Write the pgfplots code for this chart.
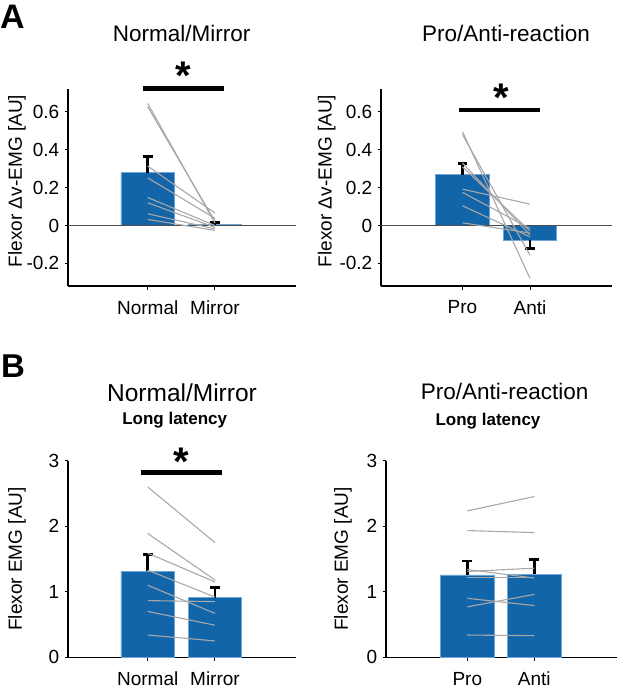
\documentclass[border=0pt]{standalone}
\usepackage{fontspec}
\setmainfont{Liberation Sans}
\usepackage{pgfplots}
\pgfplotsset{compat=1.18}
\definecolor{barblue}{RGB}{18,101,168}
\definecolor{indiv}{RGB}{168,168,168}
\definecolor{baredge}{RGB}{110,165,215}
\pgfplotsset{
 panel/.style={scale only axis, axis x line*=bottom, axis y line*=left,
   axis line style={line width=1.5pt, black}, x axis line style={-}, y axis line style={-},
   every tick/.style={line width=1pt, black}, tick align=outside, major tick length=3.5pt,
   xtick={1,2}, tick label style={font=\fontsize{19}{22}\selectfont},
   xticklabel style={anchor=north, inner sep=0pt, yshift=-11pt},
   yticklabel style={anchor=east, inner sep=0pt, xshift=-5pt}, clip=false},
 mybar/.style={ybar, bar width=53.5pt, fill=barblue, draw=baredge, line width=0.6pt, forget plot},
 ind/.style={indiv, line width=1.1pt, mark=none, forget plot},
 zl/.style={black!70, line width=0.8pt, mark=none, forget plot},
 ebs/.style={black, line width=2.8pt, mark=none, forget plot}
}
\newcommand{\ttl}{\fontsize{22.5}{26}\selectfont}
\newcommand{\lab}{\fontsize{19}{22}\selectfont}
\begin{document}
\begin{tikzpicture}[x=1pt,y=1pt]
\path[use as bounding box] (0pt,0pt) rectangle (617pt,-692pt);
% ---------- Panel A left
\begin{axis}[panel, at={(68pt,-286pt)}, anchor=south west, width=228pt, height=196.7pt,
  xmin=-0.184, xmax=3.204, ymin=-0.32, ymax=0.72,
  xticklabels={Normal,Mirror}, ytick={-0.2,0,0.2,0.4,0.6}, yticklabels={-0.2,0,0.2,0.4,0.6}]
\addplot[mybar] coordinates {(1,0.28) (2,0.005)};
\addplot[zl] coordinates {(-0.184,0) (3.204,0)};
% error bars (mean + SE)
\addplot[ebs] coordinates {(1,0.28) (1,0.365)};
\addplot[ebs] coordinates {(0.926,0.365) (1.074,0.365)};
\addplot[ebs] coordinates {(2,0.005) (2,0.016)};
\addplot[ebs] coordinates {(1.926,0.016) (2.074,0.016)};
\addplot[ind] coordinates {(1,0.645) (2,0.012)};
\addplot[ind] coordinates {(1,0.628) (2,0.022)};
\addplot[ind] coordinates {(1,0.314) (2,0.066)};
\addplot[ind] coordinates {(1,0.252) (2,0.038)};
\addplot[ind] coordinates {(1,0.148) (2,0.0)};
\addplot[ind] coordinates {(1,0.120) (2,-0.010)};
\addplot[ind] coordinates {(1,0.062) (2,-0.018)};
\addplot[ind] coordinates {(1,0.032) (2,-0.026)};
\end{axis}
% ---------- Panel A right
\begin{axis}[panel, at={(381pt,-286pt)}, anchor=south west, width=230.7pt, height=196.7pt,
  xmin=-0.207, xmax=3.21, ymin=-0.32, ymax=0.72,
  xticklabels={Pro,Anti}, ytick={-0.2,0,0.2,0.4,0.6}, yticklabels={-0.2,0,0.2,0.4,0.6}]
\addplot[mybar] coordinates {(1,0.268) (2,-0.078)};
\addplot[zl] coordinates {(-0.207,0) (3.21,0)};
\addplot[ebs] coordinates {(1,0.268) (1,0.326)};
\addplot[ebs] coordinates {(0.927,0.326) (1.073,0.326)};
\addplot[ebs] coordinates {(2,-0.078) (2,-0.120)};
\addplot[ebs] coordinates {(1.927,-0.120) (2.073,-0.120)};
\addplot[ind] coordinates {(1,0.496) (2,-0.280)};
\addplot[ind] coordinates {(1,0.480) (2,-0.157)};
\addplot[ind] coordinates {(1,0.330) (2,-0.050)};
\addplot[ind] coordinates {(1,0.310) (2,-0.030)};
\addplot[ind] coordinates {(1,0.192) (2,0.113)};
\addplot[ind] coordinates {(1,0.175) (2,-0.016)};
\addplot[ind] coordinates {(1,0.104) (2,-0.060)};
\addplot[ind] coordinates {(1,0.014) (2,-0.040)};
\end{axis}
% ---------- Panel B left
\begin{axis}[panel, at={(68pt,-657.3pt)}, anchor=south west, width=228pt, height=196.6pt,
  xmin=-0.184, xmax=3.204, ymin=0, ymax=3,
  xticklabels={Normal,Mirror}, ytick={0,1,2,3}, yticklabels={0,1,2,3}]
\addplot[mybar] coordinates {(1,1.31) (2,0.91)};
\addplot[ebs] coordinates {(1,1.31) (1,1.565)};
\addplot[ebs] coordinates {(0.926,1.565) (1.074,1.565)};
\addplot[ebs] coordinates {(2,0.91) (2,1.07)};
\addplot[ebs] coordinates {(1.926,1.07) (2.074,1.07)};
\addplot[ind] coordinates {(1,2.60) (2,1.75)};
\addplot[ind] coordinates {(1,1.89) (2,1.18)};
\addplot[ind] coordinates {(1,1.59) (2,1.15)};
\addplot[ind] coordinates {(1,1.33) (2,0.92)};
\addplot[ind] coordinates {(1,1.10) (2,0.67)};
\addplot[ind] coordinates {(1,0.865) (2,0.85)};
\addplot[ind] coordinates {(1,0.70) (2,0.49)};
\addplot[ind] coordinates {(1,0.34) (2,0.25)};
\end{axis}
% ---------- Panel B right
\begin{axis}[panel, at={(386pt,-657.3pt)}, anchor=south west, width=230.7pt, height=196.6pt,
  xmin=-0.213, xmax=3.23, ymin=0, ymax=3,
  xticklabels={Pro,Anti}, ytick={0,1,2,3}, yticklabels={0,1,2,3}]
\addplot[mybar] coordinates {(1,1.257) (2,1.267)};
\addplot[ebs] coordinates {(1,1.257) (1,1.47)};
\addplot[ebs] coordinates {(0.925,1.47) (1.075,1.47)};
\addplot[ebs] coordinates {(2,1.267) (2,1.495)};
\addplot[ebs] coordinates {(1.925,1.495) (2.075,1.495)};
\addplot[ind] coordinates {(1,2.234) (2,2.453)};
\addplot[ind] coordinates {(1,1.934) (2,1.903)};
\addplot[ind] coordinates {(1,1.34) (2,1.21)};
\addplot[ind] coordinates {(1,1.31) (2,1.36)};
\addplot[ind] coordinates {(1,1.22) (2,1.22)};
\addplot[ind] coordinates {(1,0.90) (2,0.79)};
\addplot[ind] coordinates {(1,0.77) (2,0.96)};
\addplot[ind] coordinates {(1,0.34) (2,0.33)};
\end{axis}
% ---------- annotations
\node[anchor=base west, inner sep=0pt, font=\fontsize{34}{40}\selectfont\bfseries] at (0pt,-29pt) {A};
\node[anchor=base west, inner sep=0pt, font=\fontsize{33}{40}\selectfont\bfseries] at (1pt,-377pt) {B};
\node[anchor=base, inner sep=0pt, font=\ttl] at (181.7pt,-42pt) {Normal/Mirror};
\node[anchor=base, inner sep=0pt, font=\ttl] at (506pt,-42pt) {Pro/Anti-reaction};
\node[anchor=base, inner sep=0pt, font=\fontsize{24.5}{28}\selectfont] at (182pt,-401.7pt) {Normal/Mirror};
\node[anchor=base, inner sep=0pt, font=\ttl] at (504.7pt,-399.5pt) {Pro/Anti-reaction};
\node[anchor=base, inner sep=0pt, font=\fontsize{17}{20}\selectfont\bfseries] at (174.7pt,-424.5pt) {Long latency};
\node[anchor=base, inner sep=0pt, font=\fontsize{17}{20}\selectfont\bfseries] at (488pt,-425pt) {Long latency};
\node[rotate=90, inner sep=0pt, font=\lab] at (17pt,-181pt) {Flexor Δv-EMG [AU]};
\node[rotate=90, inner sep=0pt, font=\lab] at (326.7pt,-181pt) {Flexor Δv-EMG [AU]};
\node[rotate=90, inner sep=0pt, font=\lab] at (17pt,-559pt) {Flexor EMG [AU]};
\node[rotate=90, inner sep=0pt, font=\lab] at (343pt,-559pt) {Flexor EMG [AU]};
\draw[line width=4.5pt] (142.7pt,-88.3pt) -- (224.3pt,-88.3pt);
\draw[line width=4.5pt] (459pt,-110pt) -- (540pt,-110pt);
\draw[line width=4.5pt] (141pt,-472.3pt) -- (222.3pt,-472.3pt);
\node[anchor=north, inner sep=0pt, font=\fontsize{40}{44}\selectfont\bfseries] at (183pt,-62pt) {*};
\node[anchor=north, inner sep=0pt, font=\fontsize{40}{44}\selectfont\bfseries] at (501.7pt,-83.3pt) {*};
\node[anchor=north, inner sep=0pt, font=\fontsize{40}{44}\selectfont\bfseries] at (181.7pt,-448pt) {*};
\end{tikzpicture}
\end{document}
